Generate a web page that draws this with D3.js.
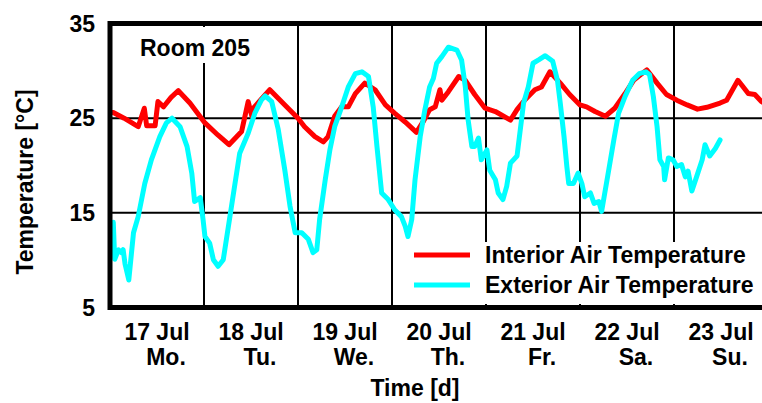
<!DOCTYPE html>
<html><head><meta charset="utf-8">
<script src="https://cdn.jsdelivr.net/npm/d3@7"></script>
<style>html,body{margin:0;padding:0;background:#fff;}svg{display:block;}</style>
</head><body>
<script>
// ---- data (time in days since 17 Jul 00:00, temperature in °C) ----
const interiorTime = [0.0,0.035,0.15,0.30,0.365,0.39,0.48,0.51,0.57,0.65,0.727,0.85,1.01,1.15,1.266,1.40,1.47,1.51,1.525,1.60,1.70,1.86,2.0,2.07,2.18,2.27,2.32,2.39,2.465,2.535,2.61,2.71,2.82,2.93,3.03,3.14,3.26,3.33,3.40,3.46,3.51,3.53,3.60,3.71,3.78,3.88,3.99,4.10,4.26,4.33,4.41,4.52,4.59,4.68,4.79,4.89,5.0,5.07,5.16,5.27,5.37,5.48,5.57,5.71,5.82,5.92,6.03,6.14,6.25,6.35,6.49,6.56,6.68,6.72,6.79,6.86,6.93,7.0];
const interiorTemp = [25.6,25.6,25.0,24.1,26.05,24.2,24.2,26.75,26.2,27.2,27.9,26.6,24.5,23.2,22.2,23.6,26.75,25.2,26.05,26.9,28.0,26.4,25.0,24.1,23.05,22.5,23.05,25.2,26.2,26.2,27.6,28.7,28.0,26.4,25.5,24.6,23.5,24.6,25.9,26.2,28.0,26.9,27.8,29.4,29.0,27.5,26.05,25.7,24.8,25.9,26.9,28.0,28.3,29.9,28.7,27.5,26.4,26.2,25.7,25.2,26.05,27.6,29.0,30.1,28.7,27.5,26.9,26.4,25.95,26.15,26.6,26.9,29.0,28.5,27.6,27.5,26.75,26.4];

const exteriorTime = [0.035,0.05,0.09,0.12,0.14,0.16,0.20,0.25,0.30,0.37,0.44,0.53,0.60,0.66,0.745,0.82,0.87,0.90,0.96,0.99,1.01,1.06,1.10,1.15,1.205,1.26,1.33,1.38,1.47,1.54,1.61,1.65,1.72,1.79,1.86,1.915,1.97,2.04,2.11,2.16,2.20,2.23,2.29,2.34,2.39,2.465,2.535,2.61,2.68,2.75,2.80,2.84,2.89,2.96,3.03,3.10,3.14,3.17,3.21,3.245,3.30,3.35,3.40,3.44,3.475,3.53,3.60,3.69,3.74,3.78,3.81,3.85,3.88,3.92,3.95,4.01,4.04,4.10,4.13,4.18,4.22,4.26,4.33,4.40,4.45,4.50,4.56,4.63,4.71,4.76,4.79,4.83,4.86,4.88,4.93,4.98,5.02,5.05,5.11,5.15,5.20,5.23,5.30,5.36,5.41,5.48,5.56,5.63,5.70,5.74,5.78,5.82,5.85,5.89,5.90,5.94,5.99,6.03,6.08,6.12,6.15,6.19,6.24,6.30,6.33,6.38,6.44,6.49];
const exteriorTemp = [14.0,10.1,11.1,10.8,11.1,9.6,7.9,12.9,14.6,18.1,20.6,23.05,24.5,25.0,24.1,22.0,19.2,16.2,16.6,14.3,12.5,11.8,10.05,9.35,10.05,13.6,18.1,21.3,23.4,25.5,26.9,27.35,26.75,23.8,19.5,15.7,12.9,12.9,12.2,10.8,11.1,14.3,18.5,21.7,24.1,26.2,28.3,29.7,29.9,29.4,26.2,22.0,17.1,16.4,15.3,14.6,13.6,12.5,14.3,18.5,23.05,25.9,28.3,29.2,30.8,31.5,32.5,32.2,31.15,28.3,24.8,22.0,22.0,22.9,20.6,21.65,19.5,18.5,17.1,16.4,17.8,20.25,21.0,26.6,28.3,30.8,31.15,31.6,31.0,29.0,26.6,23.05,19.9,18.1,18.1,19.2,18.1,16.7,17.1,16.0,16.2,15.15,19.2,22.7,25.5,27.3,29.0,29.7,29.9,29.6,27.3,24.1,20.6,19.9,18.5,20.8,20.6,19.9,20.1,18.8,19.4,17.3,18.8,20.6,22.2,21.0,21.8,22.7];

const yTicks = [5, 15, 25, 35];
const dateLabels = ["17 Jul","18 Jul","19 Jul","20 Jul","21 Jul","22 Jul","23 Jul"];
const dayLabels = ["Mo.","Tu.","We.","Th.","Fr.","Sa.","Su."];
const seriesNames = ["Interior Air Temperature","Exterior Air Temperature"];
const seriesColors = ["#ff0000","#00ffff"];
const titleText = "Room 205";

// ---- layout ----
const W = 762, H = 403;
const x = d3.scaleLinear().domain([0, 7]).range([110, 768]);
const y = d3.scaleLinear().domain([5, 35]).range([307.5, 23.5]);
const FONT = "'Liberation Sans', Arial, sans-serif";

const svg = d3.select("body").append("svg").attr("width", W).attr("height", H)
  .style("font-family", FONT).style("font-weight", "bold");

svg.append("defs").append("clipPath").attr("id", "plot")
  .append("rect").attr("x", 110).attr("y", 23.5).attr("width", 660).attr("height", 284);

// gridlines
const grid = svg.append("g").attr("stroke", "#000").attr("stroke-width", 2);
[15, 25].forEach(v => grid.append("line").attr("x1", 110).attr("x2", W).attr("y1", y(v)).attr("y2", y(v)));
d3.range(1, 7).forEach(d => grid.append("line").attr("x1", x(d)).attr("x2", x(d)).attr("y1", y(35)).attr("y2", y(5)));

// white boxes behind title and legend
svg.append("rect").attr("x", 130).attr("y", 27).attr("width", 130).attr("height", 36).attr("fill", "#fff");
svg.append("rect").attr("x", 400).attr("y", 242).attr("width", 370).attr("height", 62).attr("fill", "#fff");

// series
const line = d3.line().x(d => x(d[0])).y(d => y(d[1]));
const lines = svg.append("g").attr("clip-path", "url(#plot)");
lines.append("path").datum(interiorTime.map((t, i) => [t, interiorTemp[i]]))
  .attr("d", line).attr("fill", "none").attr("stroke", seriesColors[0])
  .attr("stroke-width", 5).attr("stroke-linejoin", "round").attr("stroke-linecap", "round");
lines.append("path").datum(exteriorTime.map((t, i) => [t, exteriorTemp[i]]))
  .attr("d", line).attr("fill", "none").attr("stroke", seriesColors[1])
  .attr("stroke-width", 5).attr("stroke-linejoin", "round").attr("stroke-linecap", "round");

// frame (top, left, bottom)
const frame = svg.append("g").attr("stroke", "#000").attr("stroke-width", 5);
frame.append("line").attr("x1", 110).attr("x2", W).attr("y1", y(35)).attr("y2", y(35));
frame.append("line").attr("x1", 110).attr("x2", W).attr("y1", y(5)).attr("y2", y(5));
frame.append("line").attr("x1", 110).attr("x2", 110).attr("y1", y(35) - 2.5).attr("y2", y(5) + 2.5);

// y axis labels
svg.append("g").selectAll("text").data(yTicks).join("text")
  .attr("x", 95).attr("y", d => y(d)).attr("dy", "0.36em")
  .attr("text-anchor", "end").attr("font-size", 23).text(d => d);

svg.append("text").attr("transform", "translate(33,182) rotate(-90)")
  .attr("text-anchor", "middle").attr("font-size", 23).text("Temperature [°C]");

// x labels
svg.append("g").selectAll("text").data(dateLabels).join("text")
  .attr("x", (d, i) => x(i + 0.5)).attr("y", 340).attr("text-anchor", "middle")
  .attr("font-size", 23).text(d => d);
svg.append("g").selectAll("text").data(dayLabels).join("text")
  .attr("x", (d, i) => x(i + 0.5) + 9).attr("y", 365).attr("text-anchor", "middle")
  .attr("font-size", 23).text(d => d);
svg.append("text").attr("x", 415).attr("y", 396).attr("text-anchor", "middle")
  .attr("font-size", 23).text("Time [d]");

// title
svg.append("text").attr("x", 140).attr("y", 55.5).attr("font-size", 23).text(titleText);

// legend
const lg = svg.append("g");
seriesNames.forEach((name, i) => {
  const ly = 255 + i * 30;
  lg.append("line").attr("x1", 414).attr("x2", 470).attr("y1", ly).attr("y2", ly)
    .attr("stroke", seriesColors[i]).attr("stroke-width", 5);
  lg.append("text").attr("x", 485).attr("y", ly + 8).attr("font-size", 23).text(name);
});
</script>
</body></html>
